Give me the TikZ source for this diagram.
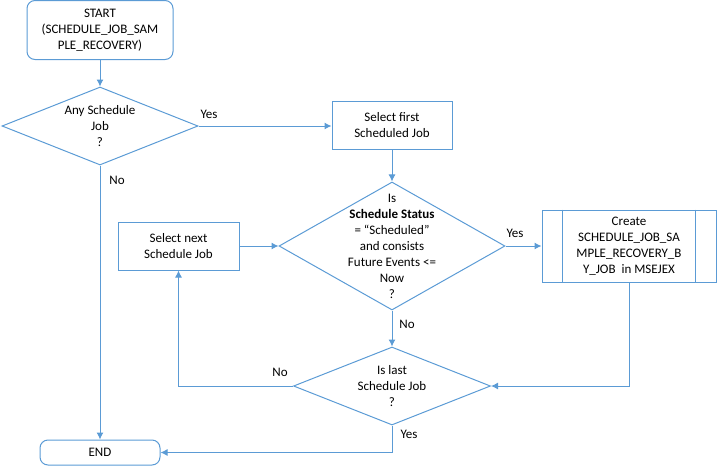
\documentclass[tikz,border=0pt]{standalone}
\usepackage{fontspec}
\setmainfont{Carlito}
\usetikzlibrary{calc,shapes.geometric,arrows.meta}
\definecolor{bleu}{HTML}{5B9BD5}
\tikzstyle{terminal} = [rectangle, rounded corners=8pt, draw=bleu, line width=1pt, align=center, inner sep=0pt]
\tikzstyle{etape} = [rectangle, draw=bleu, line width=1pt, align=center, inner sep=0pt]
\tikzstyle{decision} = [diamond, draw=bleu, line width=1pt, inner sep=0pt]
\tikzstyle{fleche} = [draw=bleu, line width=1pt, -{Latex[length=7pt,width=7pt]}]

\begin{document}
\begin{tikzpicture}[x=1pt, y=-1pt, every node/.style={font=\fontsize{13}{16}\selectfont}]

        \useasboundingbox (0,0) rectangle (717,466);

        %% blocks
        \node (start) [terminal, minimum width=146pt, minimum height=59pt] at (100,30) {START\\(SCHEDULE\_JOB\_SAM\\PLE\_RECOVERY)};
        \node (fin) [terminal, minimum width=120pt, minimum height=25pt] at (100,452.5) {END};

        \node (first) [etape, minimum width=120pt, minimum height=48pt] at (392,125) {Select first\\Scheduled Job};
        \node (next) [etape, minimum width=121pt, minimum height=48pt] at (178.5,246) {Select next\\Schedule Job};
        \node (create) [etape, minimum width=174pt, minimum height=72pt] at (629,246) {Create\\SCHEDULE\_JOB\_SA\\MPLE\_RECOVERY\_B\\Y\_JOB~ in MSEJEX};

        \node (d1) [decision, minimum width=196pt, minimum height=78pt,
            label={[align=center]center:Any Schedule\\Job\\?}] at (100,126) {};
        \node (d2) [decision, minimum width=226pt, minimum height=128pt,
            label={[align=center]center:Is\\\textbf{Schedule Status}\\= “Scheduled”\\and consists\\Future Events <=\\Now\\?}] at (392,246) {};
        \node (d3) [decision, minimum width=197pt, minimum height=78pt,
            label={[align=center]center:Is last\\Schedule Job\\?}] at (392,386) {};

        \draw [draw=bleu, line width=1pt] ($(create.north west) + (21,0)$) -- ($(create.south west) + (21,0)$);
        \draw [draw=bleu, line width=1pt] ($(create.north east) + (-21,0)$) -- ($(create.south east) + (-21,0)$);


        %% links
        \draw [fleche] (start) -- (d1);
        \draw [fleche] (d1.east) -- (d1.east -| first.west);
        \draw [fleche] (d1.south) -- (fin.north);
        \draw [fleche] (first) -- (d2);
        \draw [fleche] (d2.east) -- (create.west);
        \draw [fleche] (next.east) -- (d2.west);
        \draw [fleche] (d2.south) -- (d3.north);
        \draw [fleche] (create.south) |- (d3.east);
        \draw [fleche] (d3.west) -| (next.south);
        \draw [fleche] (d3.south) |- (fin.east);


        %% answers
        \node (oui1) at (209,114) {Yes};
        \node (non1) at (117,180) {No};
        \node (oui2) at (515,233) {Yes};
        \node (non2) at (407,324) {No};
        \node (non3) at (280,372) {No};
        \node (oui3) at (409,434) {Yes};

\end{tikzpicture}
\end{document}
